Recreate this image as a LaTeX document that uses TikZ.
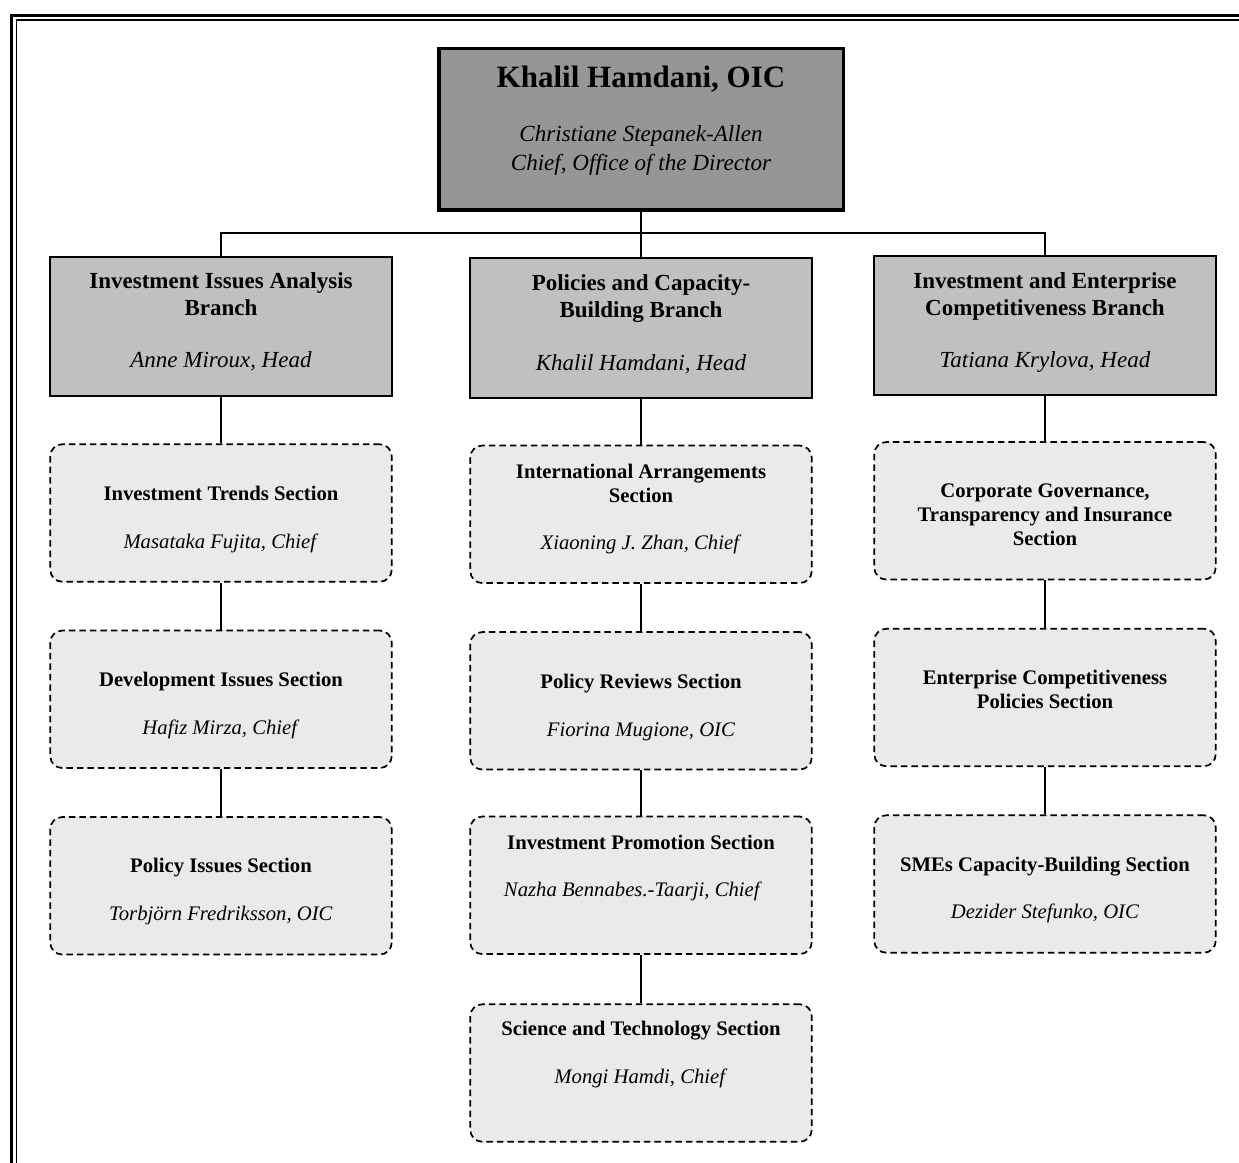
\documentclass[tikz,border=0pt]{standalone}
\usepackage{fontspec}
\setmainfont{Liberation Serif}
\definecolor{topgray}{RGB}{150,150,150}
\definecolor{branchgray}{RGB}{192,192,192}
\definecolor{secgray}{RGB}{234,234,234}
\begin{document}
\begin{tikzpicture}[x=1pt,y=-1pt,
  topbox/.style={draw,line width=3.5pt,fill=topgray,minimum width=404.5pt,minimum height=161.5pt,inner sep=0pt},
  branchbox/.style={draw,line width=2pt,fill=branchgray,minimum width=342pt,minimum height=139.5pt,inner sep=0pt},
  secbox/.style={draw,line width=1.7pt,dash pattern=on 6.5pt off 4pt,rounded corners=12pt,fill=secgray,minimum width=341.5pt,minimum height=137.5pt,inner sep=0pt},
  toptext/.style={anchor=base,align=center,inner sep=0pt,font=\fontsize{23.1}{28.3}\selectfont},
  branchtext/.style={anchor=base,align=center,inner sep=0pt,font=\fontsize{23}{26.7}\selectfont},
  sectext/.style={anchor=base,align=center,inner sep=0pt,font=\fontsize{20.7}{23.8}\selectfont},
  link/.style={line width=1.8pt}]
\useasboundingbox (0,0) rectangle (1239,1162);
\clip (0,0) rectangle (1239,1162);
\draw[line width=3.3pt] (11.7,15.7) rectangle (1260,1185);
\draw[line width=1.7pt] (16.5,20) rectangle (1255,1180);

\node[topbox] (dir) at (641,129.25) {};
\node[toptext] (dirt) at (641,170) {{\fontsize{31}{36}\selectfont\bfseries Khalil Hamdani, OIC}\\[25.7pt]\textit{Christiane Stepanek-Allen}\\\textit{Chief, Office of the Director}};

\node[branchbox] (iia) at (221,326.3) {};
\node[branchbox] (pcb) at (641,328) {};
\node[branchbox] (iec) at (1045,325.7) {};
\node[branchtext] (iiat) at (221,367.7) {\textbf{Investment Issues Analysis}\\\textbf{Branch}\\[26pt]\textit{Anne Miroux, Head}};
\node[branchtext] (pcbt) at (641,370) {\textbf{Policies and Capacity-}\\\textbf{Building Branch}\\[26pt]\textit{Khalil Hamdani, Head}};
\node[branchtext] (iect) at (1045,367.7) {\textbf{Investment and Enterprise}\\\textbf{Competitiveness Branch}\\[26pt]\textit{Tatiana Krylova, Head}};

\node[secbox] (its) at (221,513) {};
\node[secbox] (dis) at (221,699.3) {};
\node[secbox] (pis) at (221,885.8) {};
\node[sectext] (itst) at (221,548) {\textbf{Investment Trends Section}\\[23.8pt]\textit{Masataka Fujita, Chief}};
\node[sectext] (dist) at (221,734) {\textbf{Development Issues Section}\\[23.8pt]\textit{Hafiz Mirza, Chief}};
\node[sectext] (pist) at (221,920.5) {\textbf{Policy Issues Section}\\[23.8pt]\textit{Torbjörn Fredriksson, OIC}};

\node[secbox] (ias) at (641,514.3) {};
\node[secbox] (prs) at (641,700.8) {};
\node[secbox] (ips) at (641,885.3) {};
\node[secbox] (sts) at (641,1073) {};
\node[sectext] (iast) at (641,549.7) {\textbf{International Arrangements}\\\textbf{Section}\\[23.8pt]\textit{Xiaoning J. Zhan, Chief}};
\node[sectext] (prst) at (641,736.2) {\textbf{Policy Reviews Section}\\[23.8pt]\textit{Fiorina Mugione, OIC}};
\node[sectext] (ipst) at (641,896.8) {\textbf{Investment Promotion Section}\\[23.8pt]\textit{Nazha Bennabes.-Taarji, Chief}\hspace*{16pt}};
\node[sectext] (stst) at (641,1083.3) {\textbf{Science and Technology Section}\\[23.8pt]\textit{Mongi Hamdi, Chief}};

\node[secbox] (cgs) at (1045,510.8) {};
\node[secbox] (ecs) at (1045,697.5) {};
\node[secbox] (sme) at (1045,884) {};
\node[sectext] (cgst) at (1045,545.2) {\textbf{Corporate Governance,}\\\textbf{Transparency and Insurance}\\\textbf{Section}};
\node[sectext] (ecst) at (1045,708.2) {\textbf{Enterprise Competitiveness}\\\textbf{Policies Section}};
\node[sectext] (smet) at (1045,918.6) {\textbf{SMEs Capacity-Building Section}\\[23.8pt]\textit{Dezider Stefunko, OIC}};

\coordinate (bus) at (641,233.3);
\draw[link] (dir) -- (pcb);
\draw[link] (iia) |- (bus) -| (iec);
\draw[link] (iia) -- (its);
\draw[link] (its) -- (dis);
\draw[link] (dis) -- (pis);
\draw[link] (pcb) -- (ias);
\draw[link] (ias) -- (prs);
\draw[link] (prs) -- (ips);
\draw[link] (ips) -- (sts);
\draw[link] (iec) -- (cgs);
\draw[link] (cgs) -- (ecs);
\draw[link] (ecs) -- (sme);
\end{tikzpicture}
\end{document}
